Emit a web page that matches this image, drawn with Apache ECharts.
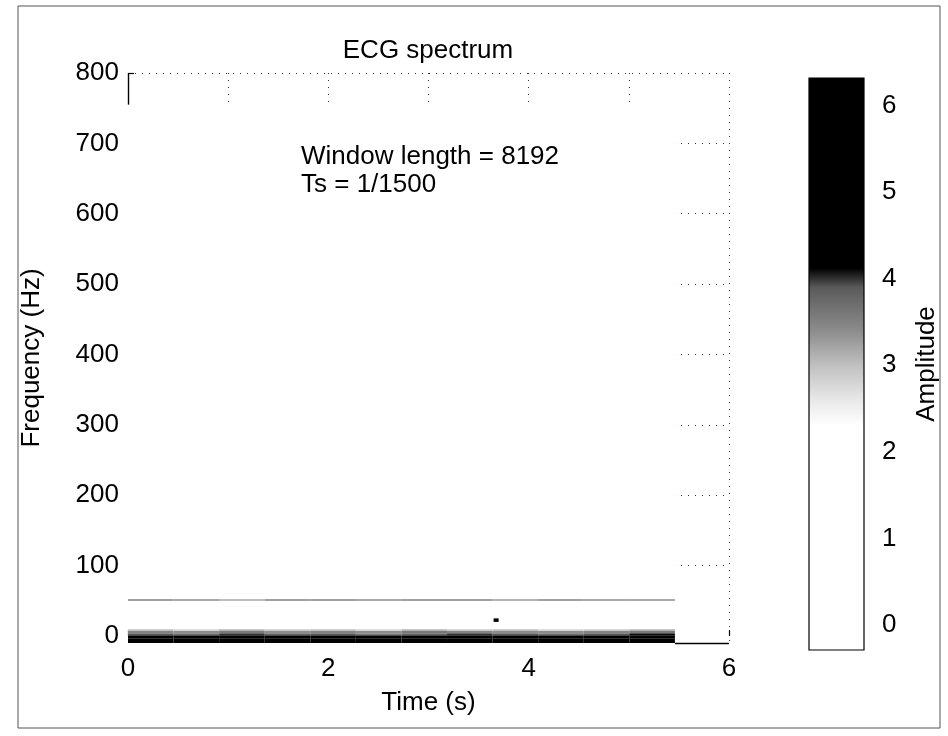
<!DOCTYPE html>
<html><head><meta charset="utf-8">
<script src="https://cdn.jsdelivr.net/npm/echarts@6/dist/echarts.min.js"></script>
<style>html,body{margin:0;padding:0;background:#fff}#c{width:948px;height:736px}</style>
</head><body><div id="c"></div>
<script>
// ---- data ----
const titleText = 'ECG spectrum';
const noteLines = ['Window length = 8192', 'Ts = 1/1500'];
const timeEdges = [0, 0.455, 0.91, 1.365, 1.82, 2.275, 2.73, 3.185, 3.64, 4.095, 4.55, 5.005, 5.46];
const imageTime = [0, 5.46];
const imageFreq = [-10, 755];
const bandRowFreqs = [[-10, -4], [-4, 1], [1, 4], [4, 7], [7, 9.5]];
const bandRowA = [5.8, 6.0, 5.9, 6.1, 6.0, 5.9, 6.2, 6.0, 6.1, 5.9, 6.0, 6.3];
const bandRowB = [5.2, 5.0, 5.4, 5.1, 5.3, 5.0, 5.2, 5.4, 5.1, 5.3, 5.2, 5.5];
const bandRowC = [3.9, 3.7, 4.0, 3.8, 3.9, 3.6, 3.8, 4.0, 3.9, 3.7, 3.9, 4.1];
const bandRowD = [3.5, 3.4, 3.6, 3.4, 3.5, 3.4, 3.6, 3.5, 3.4, 3.4, 3.5, 3.6];
const bandRowE = [3.0, 2.8, 3.1, 2.9, 3.0, 2.8, 3.1, 2.9, 3.0, 2.8, 2.9, 3.1];
const humRowFreq = [50, 52];
const humRow = [3.5, 3.4, 3.2, 3.5, 3.5, 3.4, 3.5, 3.5, 3.3, 3.5, 3.4, 3.4];
const spot = [3.65, 3.70, 20, 25, 6.2];
const xTickValues = [0, 2, 4, 6];
const yTickValues = [0, 100, 200, 300, 400, 500, 600, 700, 800];
const cbTickValues = [0, 1, 2, 3, 4, 5, 6];
const cbRange = [-0.29, 6.32];
const cmapAmp = [2.3, 2.6, 3.0, 3.4, 3.9, 4.12];
const cmapGray = [255, 232, 192, 140, 90, 0];

// ---- colormap ----
function ampGray(a) {
  if (a <= cmapAmp[0]) return cmapGray[0];
  for (let i = 1; i < cmapAmp.length; i++) {
    if (a <= cmapAmp[i]) {
      const t = (a - cmapAmp[i - 1]) / (cmapAmp[i] - cmapAmp[i - 1]);
      return cmapGray[i - 1] + t * (cmapGray[i] - cmapGray[i - 1]);
    }
  }
  return cmapGray[cmapGray.length - 1];
}
function ampColor(a) { const g = Math.round(ampGray(a)); return 'rgb(' + g + ',' + g + ',' + g + ')'; }

// ---- cells: [t0, t1, f0, f1, amp] ----
const cells = [[imageTime[0], imageTime[1], imageFreq[0], imageFreq[1], 0]];
const bandRows = [bandRowA, bandRowB, bandRowC, bandRowD, bandRowE];
bandRows.forEach((row, r) => {
  row.forEach((v, i) => cells.push([timeEdges[i], timeEdges[i + 1], bandRowFreqs[r][0], bandRowFreqs[r][1], v]));
});
humRow.forEach((v, i) => cells.push([timeEdges[i], timeEdges[i + 1], humRowFreq[0], humRowFreq[1], v]));
cells.push(spot);

function renderCell(params, api) {
  const p0 = api.coord([api.value(0), api.value(3)]);
  const p1 = api.coord([api.value(1), api.value(2)]);
  return { type: 'rect', shape: { x: p0[0], y: p0[1], width: p1[0] - p0[0], height: p1[1] - p0[1] },
           style: { fill: ampColor(api.value(4)) } };
}

const cbStops = [{ offset: 0, color: ampColor(cbRange[0]) }];
cmapAmp.forEach(a => cbStops.push({ offset: (a - cbRange[0]) / (cbRange[1] - cbRange[0]), color: ampColor(a) }));
cbStops.push({ offset: 1, color: ampColor(cbRange[1]) });

function renderBar(params, api) {
  const p0 = api.coord([api.value(0), api.value(3)]);
  const p1 = api.coord([api.value(1), api.value(2)]);
  return { type: 'rect', shape: { x: p0[0], y: p0[1], width: p1[0] - p0[0], height: p1[1] - p0[1] },
           style: { fill: { type: 'linear', x: 0, y: 1, x2: 0, y2: 0, colorStops: cbStops }, stroke: '#000', lineWidth: 1.2 } };
}

const FONT = '"Liberation Sans", Arial, Helvetica, sans-serif';
const FS = 26;
const dotted = { color: '#333', width: 1, type: [1, 6] };

const chart = echarts.init(document.getElementById('c'), null, { renderer: 'canvas' });
chart.setOption({
  backgroundColor: '#fff',
  animation: false,
  textStyle: { fontFamily: FONT, color: '#000' },
  title: [
    { text: titleText, left: 423, textAlign: 'center', top: 33,
      textStyle: { fontFamily: FONT, fontSize: FS, fontWeight: 'normal', color: '#000' } },
    { text: noteLines.join('\n'), left: 296, top: 138,
      textStyle: { fontFamily: FONT, fontSize: FS, fontWeight: 'normal', color: '#000', lineHeight: 28 } }
  ],
  graphic: [
    { type: 'rect', shape: { x: 18, y: 6, width: 922, height: 722 }, style: { fill: 'none', stroke: '#555', lineWidth: 1 }, silent: true, z: -1 }
  ],
  grid: [
    { left: 128, right: 219, top: 73, bottom: 93, containLabel: false },
    { left: 809, right: 84, top: 78, bottom: 86, containLabel: false }
  ],
  xAxis: [
    { type: 'value', gridIndex: 0, min: 0, max: 6, interval: 1,
      axisLine: { show: false },
      axisTick: { show: true, inside: true, length: 6, lineStyle: { color: '#000', width: 1.2 } },
      axisLabel: { customValues: xTickValues, margin: 13, fontSize: FS, fontFamily: FONT, color: '#000' },
      splitLine: { show: true, showMinLine: false, lineStyle: dotted },
      name: 'Time (s)', nameLocation: 'middle', nameGap: 47,
      nameTextStyle: { fontSize: FS, fontFamily: FONT, color: '#000' } },
    { type: 'value', gridIndex: 1, min: 0, max: 1, show: false }
  ],
  yAxis: [
    { type: 'value', gridIndex: 0, min: imageFreq[0], max: 800, splitNumber: 8,
      axisLine: { show: false },
      axisTick: { show: true, inside: true, length: 6, customValues: yTickValues, lineStyle: { color: '#000', width: 1.2 } },
      axisLabel: { customValues: yTickValues, margin: 9, fontSize: FS, fontFamily: FONT, color: '#000' },
      splitLine: { show: true, showMinLine: false, lineStyle: dotted },
      name: 'Frequency (Hz)', nameLocation: 'middle', nameGap: 83, nameRotate: 90,
      nameTextStyle: { fontSize: FS, fontFamily: FONT, color: '#000' } },
    { type: 'value', gridIndex: 1, min: cbRange[0], max: cbRange[1], position: 'left',
      axisLine: { show: false }, splitLine: { show: false }, axisLabel: { show: false },
      axisTick: { show: true, inside: true, length: 6, customValues: cbTickValues, lineStyle: { color: '#000', width: 1.2 } } },
    { type: 'value', gridIndex: 1, min: cbRange[0], max: cbRange[1], position: 'right',
      axisLine: { show: false }, splitLine: { show: false },
      axisTick: { show: true, inside: true, length: 6, customValues: cbTickValues, lineStyle: { color: '#000', width: 1.2 } },
      axisLabel: { customValues: cbTickValues, margin: 18, fontSize: FS, fontFamily: FONT, color: '#000' },
      name: 'Amplitude', nameLocation: 'middle', nameGap: 50, nameRotate: 90,
      nameTextStyle: { fontSize: FS, fontFamily: FONT, color: '#000' } }
  ],
  series: [
    { type: 'custom', xAxisIndex: 0, yAxisIndex: 0, renderItem: renderCell, data: cells, silent: true,
      clip: true, z: 2,
      markLine: { silent: true, symbol: 'none', label: { show: false },
        lineStyle: { color: '#000', width: 1.4, type: 'solid' },
        data: [
          [{ coord: [imageTime[0], imageFreq[1]] }, { coord: [imageTime[0], 800] }],
          [{ coord: [imageTime[1], imageFreq[0]] }, { coord: [6, imageFreq[0]] }]
        ] } },
    { type: 'custom', xAxisIndex: 1, yAxisIndex: 2, renderItem: renderBar, silent: true,
      data: [[0, 1, cbRange[0], cbRange[1]]], clip: false, z: 2 }
  ]
});
</script></body></html>
